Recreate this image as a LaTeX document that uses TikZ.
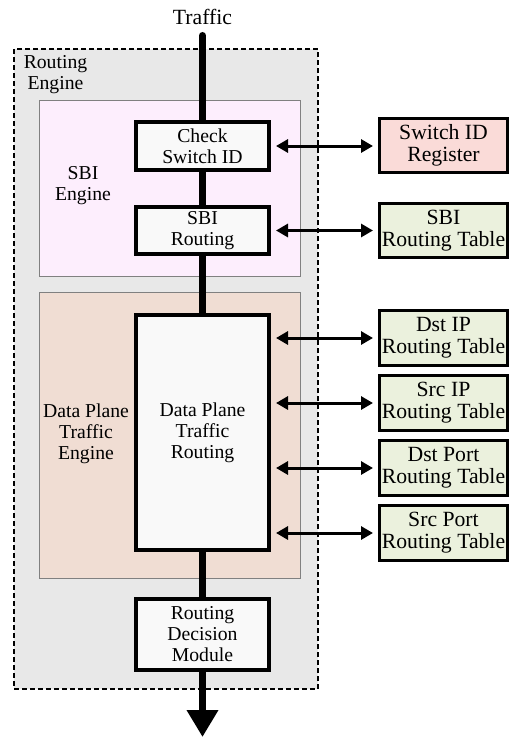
\documentclass[tikz,border=0pt]{standalone}
\usepackage{fontspec}
\newfontfamily\tnr{Liberation Serif}
\usetikzlibrary{arrows.meta}
\definecolor{outerfill}{HTML}{E8E8E8}
\definecolor{sbifill}{HTML}{FDEEFD}
\definecolor{dpfill}{HTML}{F0DDD3}
\definecolor{regfill}{HTML}{FADBD8}
\definecolor{tabfill}{HTML}{EBF1DD}
\definecolor{boxfill}{HTML}{F9F9F9}
\definecolor{regionline}{HTML}{808080}
\tikzset{
  inner/.style={draw=black, line width=4bp, fill=boxfill, align=center,
    minimum width=133bp, inner sep=0pt, font=\tnr\fontsize{19.7bp}{21bp}\selectfont},
  extbox/.style={draw=black, line width=3bp, align=center,
    minimum width=128bp, minimum height=55bp, inner sep=0pt,
    font=\tnr\fontsize{21.7bp}{22bp}\selectfont},
  region/.style={draw=regionline, line width=0.8bp},
  lbl/.style={align=center, inner sep=0pt, font=\tnr\fontsize{19.7bp}{21bp}\selectfont},
  mainline/.style={line width=7bp},
  biarrow/.style={line width=3bp, {Triangle[length=12bp,width=13bp]}-{Triangle[length=12bp,width=13bp]},
    shorten <=5bp, shorten >=5bp}
}
\begin{document}
\begin{tikzpicture}[x=1bp,y=-1bp]
\useasboundingbox (0,0) rectangle (510,738);
% outer routing engine
\draw[fill=outerfill, line width=1.5bp, dash pattern=on 5bp off 3bp] (14,49) rectangle (318,689);
\draw[region, fill=sbifill] (39,100) rectangle (300,276);
\draw[region, fill=dpfill] (39,292) rectangle (300,578);
% labels
\node[lbl] (relbl) at (55.5,75) {Routing\\Engine};
\node[lbl] (sbilbl) at (83,186) {SBI\\Engine};
\node[lbl] (dplbl) at (86,434) {Data Plane\\Traffic\\Engine};
\node[align=center, inner sep=0pt, font=\tnr\fontsize{21.7bp}{22bp}\selectfont] (traffic) at (202.5,17) {Traffic};
% inner boxes
\node[inner, minimum height=48bp] (check) at (202.5,146) {Check\\Switch ID};
\node[inner, minimum height=47bp] (sbir) at (202.5,230.5) {SBI\\Routing};
\node[inner, minimum height=235bp] (dp) at (202.5,432.5) {Data Plane\\Traffic\\Routing};
\node[inner, minimum height=71bp] (rdm) at (202.5,634.5) {Routing\\Decision\\Module};
% external boxes
\node[extbox, fill=regfill, minimum height=54bp] (swreg) at (443.5,145.5) {Switch ID\\Register};
\node[extbox, fill=tabfill, minimum height=54bp] (sbitab) at (443.5,230.5) {SBI\\Routing Table};
\node[extbox, fill=tabfill] (dstip) at (443.5,338) {Dst IP\\Routing Table};
\node[extbox, fill=tabfill] (srcip) at (443.5,403) {Src IP\\Routing Table};
\node[extbox, fill=tabfill] (dstport) at (443.5,468) {Dst Port\\Routing Table};
\node[extbox, fill=tabfill] (srcport) at (443.5,533) {Src Port\\Routing Table};
% main traffic line
\coordinate (topend) at (202.5,35.5);
\coordinate (botend) at (202.5,737);
\draw[mainline, line cap=round] (topend) -- (check.north);
\draw[mainline] (check.south) -- (sbir.north);
\draw[mainline] (sbir.south) -- (dp.north);
\draw[mainline] (dp.south) -- (rdm.north);
\draw[mainline, -{Triangle[length=27bp,width=30bp]}] (rdm.south) -- (botend);
% bidirectional arrows
\draw[biarrow] (check.east) -- (check.east -| swreg.west);
\draw[biarrow] (sbir.east) -- (sbitab.west);
\draw[biarrow] (dstip.west -| dp.east) -- (dstip.west);
\draw[biarrow] (srcip.west -| dp.east) -- (srcip.west);
\draw[biarrow] (dstport.west -| dp.east) -- (dstport.west);
\draw[biarrow] (srcport.west -| dp.east) -- (srcport.west);
\end{tikzpicture}
\end{document}
